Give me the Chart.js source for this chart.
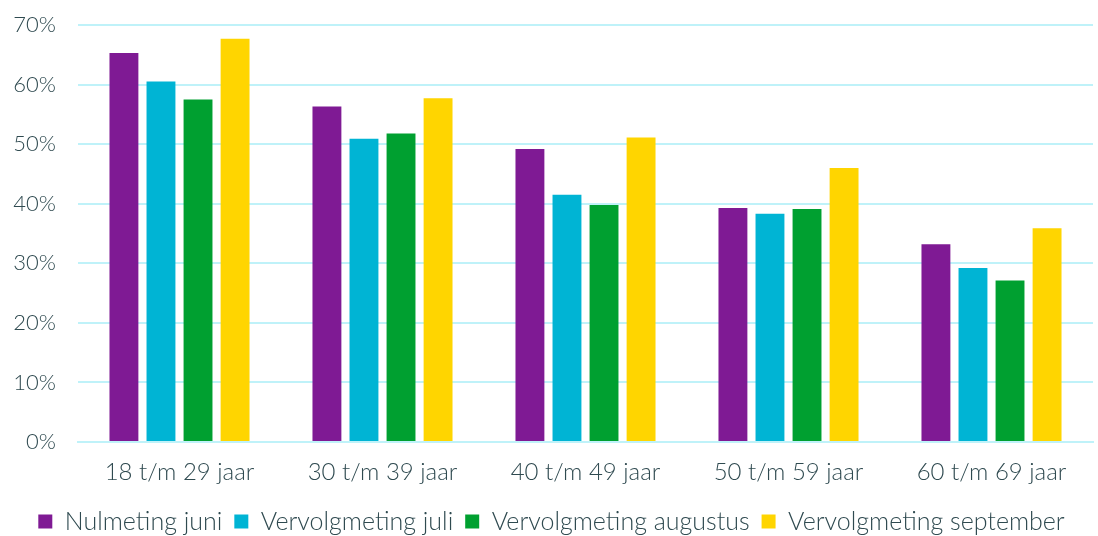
<!DOCTYPE html>
<html>
<head>
<meta charset="utf-8">
<script src="https://cdn.jsdelivr.net/npm/chart.js@4"></script>
<style>
  html, body { margin: 0; padding: 0; background: #fff; }
  #wrap { width: 1098px; height: 536px; }
</style>
</head>
<body>
<div id="wrap"><canvas id="chart"></canvas></div>
<script>
const categories = ['18 t/m 29 jaar', '30 t/m 39 jaar', '40 t/m 49 jaar', '50 t/m 59 jaar', '60 t/m 69 jaar'];
const seriesNames = ['Nulmeting juni', 'Vervolgmeting juli', 'Vervolgmeting augustus', 'Vervolgmeting september'];
const nulmetingJuni = [65.3, 56.3, 49.2, 39.3, 33.2];
const vervolgJuli = [60.5, 50.9, 41.5, 38.3, 29.2];
const vervolgAugustus = [57.5, 51.8, 39.8, 39.1, 27.1];
const vervolgSeptember = [67.7, 57.7, 51.1, 46.0, 35.9];
const colors = ['#7f1a94', '#00b4d4', '#00a030', '#ffd500'];

const textColor = '#2f4a50';
const gridColor = '#bff2f9';

const seriesValues = [nulmetingJuni, vervolgJuli, vervolgAugustus, vervolgSeptember];

new Chart(document.getElementById('chart'), {
    type: 'bar',
    data: {
        labels: categories,
        datasets: seriesValues.map((vals, i) => ({
            label: seriesNames[i],
            data: vals,
            backgroundColor: colors[i],
            borderWidth: 0,
            categoryPercentage: 0.73,
            barPercentage: 0.78
        }))
    },
    options: {
        responsive: true,
        maintainAspectRatio: false,
        animation: false,
        layout: { padding: { top: 25, right: 5, left: 10, bottom: -8 } },
        plugins: {
            legend: {
                position: 'bottom',
                labels: {
                    color: textColor,
                    font: { family: 'Lato', size: 25, weight: 300 },
                    boxWidth: 14,
                    boxHeight: 14,
                    padding: 12
                }
            },
            tooltip: { enabled: false }
        },
        scales: {
            x: {
                grid: { display: false },
                border: { color: gridColor, width: 2 },
                afterFit: scale => { scale.height = 55; },
                ticks: {
                    color: textColor,
                    font: { family: 'Lato', size: 24, weight: 300 },
                    padding: 8
                }
            },
            y: {
                min: 0,
                max: 70,
                grid: { color: gridColor, lineWidth: 2, drawTicks: false },
                border: { display: false },
                afterFit: scale => { scale.width = 68; scale.paddingTop = 0; },
                ticks: {
                    stepSize: 10,
                    color: textColor,
                    font: { family: 'Lato', size: 22, weight: 300 },
                    padding: 22,
                    callback: v => v + '%'
                }
            }
        }
    }
});
</script>
</body>
</html>
